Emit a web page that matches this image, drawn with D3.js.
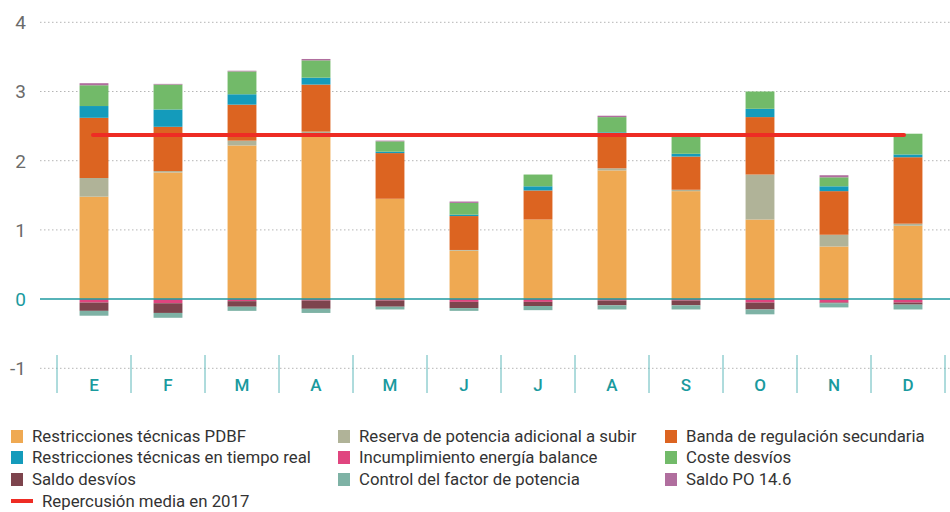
<!DOCTYPE html>
<html>
<head>
<meta charset="utf-8">
<script src="https://cdnjs.cloudflare.com/ajax/libs/d3/7.8.5/d3.min.js"></script>
<style>
  body { margin: 0; background: #fff; }
  text { font-family: Roboto, "Liberation Sans", sans-serif; }
</style>
</head>
<body>
<script>

// months (Spanish initials) and the values per component, in €/MWh
var months = ["E", "F", "M", "A", "M", "J", "J", "A", "S", "O", "N", "D"];

var restriccionesPDBF   = [1.48, 1.83, 2.22, 2.35, 1.45, 0.70, 1.15, 1.86, 1.56, 1.15, 0.76, 1.06];
var reservaSubir        = [0.27, 0.02, 0.07, 0.07, 0.00, 0.01, 0.00, 0.03, 0.02, 0.65, 0.17, 0.03];
var bandaSecundaria     = [0.87, 0.64, 0.52, 0.68, 0.66, 0.49, 0.42, 0.51, 0.48, 0.83, 0.63, 0.96];
var restriccionesReal   = [0.17, 0.25, 0.15, 0.10, 0.02, 0.02, 0.06, 0.01, 0.04, 0.12, 0.07, 0.04];
var incumplimiento      = [-0.05, -0.06, -0.03, -0.02, -0.02, -0.04, -0.04, -0.02, -0.02, -0.05, -0.05, -0.05];
var costeDesvios        = [0.30, 0.36, 0.33, 0.25, 0.15, 0.17, 0.17, 0.22, 0.26, 0.25, 0.13, 0.30];
var saldoDesvios        = [-0.12, -0.14, -0.08, -0.12, -0.09, -0.09, -0.06, -0.07, -0.07, -0.10, -0.01, -0.03];
var controlFactor       = [-0.07, -0.07, -0.06, -0.06, -0.04, -0.04, -0.06, -0.06, -0.06, -0.07, -0.06, -0.07];
var saldoPO146          = [0.03, 0.01, 0.01, 0.02, 0.01, 0.02, 0.00, 0.02, 0.00, 0.00, 0.03, 0.00];

var mediaAnual = 2.37;
var yTicks = [-1, 0, 1, 2, 3, 4];

var seriesNames = ["Restricciones técnicas PDBF", "Reserva de potencia adicional a subir",
  "Banda de regulación secundaria", "Restricciones técnicas en tiempo real",
  "Incumplimiento energía balance", "Coste desvíos", "Saldo desvíos",
  "Control del factor de potencia", "Saldo PO 14.6"];
var seriesColors = ["#efa952", "#b0b398", "#dc6421", "#149bbb", "#e0457f",
  "#72ba69", "#7d444d", "#7eb2a5", "#b06e9e"];
var lineName = "Repercusión media en 2017";

var allValues = [restriccionesPDBF, reservaSubir, bandaSecundaria, restriccionesReal,
  incumplimiento, costeDesvios, saldoDesvios, controlFactor, saldoPO146];

// build the rows for d3.stack
var keys = seriesNames.map(function(d, i) { return "s" + i; });
var rows = months.map(function(m, j) {
  var row = {idx: j, month: m};
  keys.forEach(function(k, i) { row[k] = allValues[i][j]; });
  return row;
});

var w = 950, h = 512;

var svg = d3.select("body").append("svg")
  .attr("width", w)
  .attr("height", h);

// scales
var xScale = d3.scaleBand()
  .domain(d3.range(months.length))
  .range([57, 945])
  .padding(0);

var yScale = d3.scaleLinear()
  .domain([-1, 4])
  .range([368.3, 22.3]);

var color = d3.scaleOrdinal().domain(keys).range(seriesColors);

// dotted grid lines
svg.append("g").selectAll("line")
  .data(yTicks.filter(function(t) { return t !== 0; }))
  .enter().append("line")
  .attr("x1", 40).attr("x2", w)
  .attr("y1", function(d) { return yScale(d); })
  .attr("y2", function(d) { return yScale(d); })
  .attr("stroke", "#b5b5b5")
  .attr("stroke-width", 1)
  .attr("stroke-dasharray", "1.5,2.5");

// y labels
svg.append("g").selectAll("text")
  .data(yTicks)
  .enter().append("text")
  .attr("x", 26)
  .attr("y", function(d) { return yScale(d); })
  .attr("dy", "0.36em")
  .attr("text-anchor", "end")
  .attr("font-size", 19)
  .attr("fill", function(d) { return d === 0 ? "#1a9a9e" : "#6b6b6b"; })
  .text(function(d) { return d; });

// month separators and labels
var sep = xScale.domain().concat([months.length]);
svg.append("g").selectAll("line")
  .data(sep)
  .enter().append("line")
  .attr("x1", function(d) { return d < months.length ? xScale(d) : xScale.range()[1]; })
  .attr("x2", function(d) { return d < months.length ? xScale(d) : xScale.range()[1]; })
  .attr("y1", 355).attr("y2", 393)
  .attr("stroke", "#5fb8ba")
  .attr("stroke-width", 1);

svg.append("g").selectAll("text")
  .data(rows)
  .enter().append("text")
  .attr("x", function(d) { return xScale(d.idx) + xScale.bandwidth() / 2; })
  .attr("y", 391)
  .attr("text-anchor", "middle")
  .attr("font-size", 17)
  .attr("font-weight", 500)
  .attr("fill", "#1a9a9e")
  .text(function(d) { return d.month; });

// stacked bars, positives up and negatives down
var stack = d3.stack().keys(keys).offset(d3.stackOffsetDiverging);
var series = stack(rows);
var barW = xScale.bandwidth() * 0.39;

svg.append("g").selectAll("g")
  .data(series)
  .enter().append("g")
  .attr("fill", function(d) { return color(d.key); })
  .selectAll("rect")
  .data(function(d) { return d; })
  .enter().append("rect")
  .attr("x", function(d) { return xScale(d.data.idx) + (xScale.bandwidth() - barW) / 2; })
  .attr("y", function(d) { return yScale(d[1]); })
  .attr("width", barW)
  .attr("height", function(d) { return Math.max(0, yScale(d[0]) - yScale(d[1])); });

// zero line
svg.append("line")
  .attr("x1", 40).attr("x2", w)
  .attr("y1", yScale(0)).attr("y2", yScale(0))
  .attr("stroke", "#1f9aa0")
  .attr("stroke-width", 1.5);

// average line
svg.append("line")
  .attr("x1", xScale(0) + xScale.bandwidth() / 2 - 1)
  .attr("x2", xScale(months.length - 1) + xScale.bandwidth() / 2 - 4)
  .attr("y1", yScale(mediaAnual)).attr("y2", yScale(mediaAnual))
  .attr("stroke", "#ee2c24")
  .attr("stroke-width", 4)
  .attr("stroke-linecap", "round");

// legend
var legend = svg.append("g");
var colX = [11, 338, 665];
var rowY = [436, 457, 479];

seriesNames.forEach(function(name, i) {
  var gx = colX[i % 3], gy = rowY[Math.floor(i / 3)];
  legend.append("rect")
    .attr("x", gx).attr("y", gy - 6)
    .attr("width", 12).attr("height", 13)
    .attr("fill", seriesColors[i]);
  legend.append("text")
    .attr("x", gx + 21).attr("y", gy)
    .attr("dy", "0.36em")
    .attr("font-size", 16.8)
    .attr("fill", "#333")
    .text(name);
});

legend.append("line")
  .attr("x1", 11).attr("x2", 33)
  .attr("y1", 501).attr("y2", 501)
  .attr("stroke", "#ee2c24")
  .attr("stroke-width", 4);
legend.append("text")
  .attr("x", 42).attr("y", 501)
  .attr("dy", "0.36em")
  .attr("font-size", 16.8)
  .attr("fill", "#333")
  .text(lineName);

</script>
</body>
</html>
